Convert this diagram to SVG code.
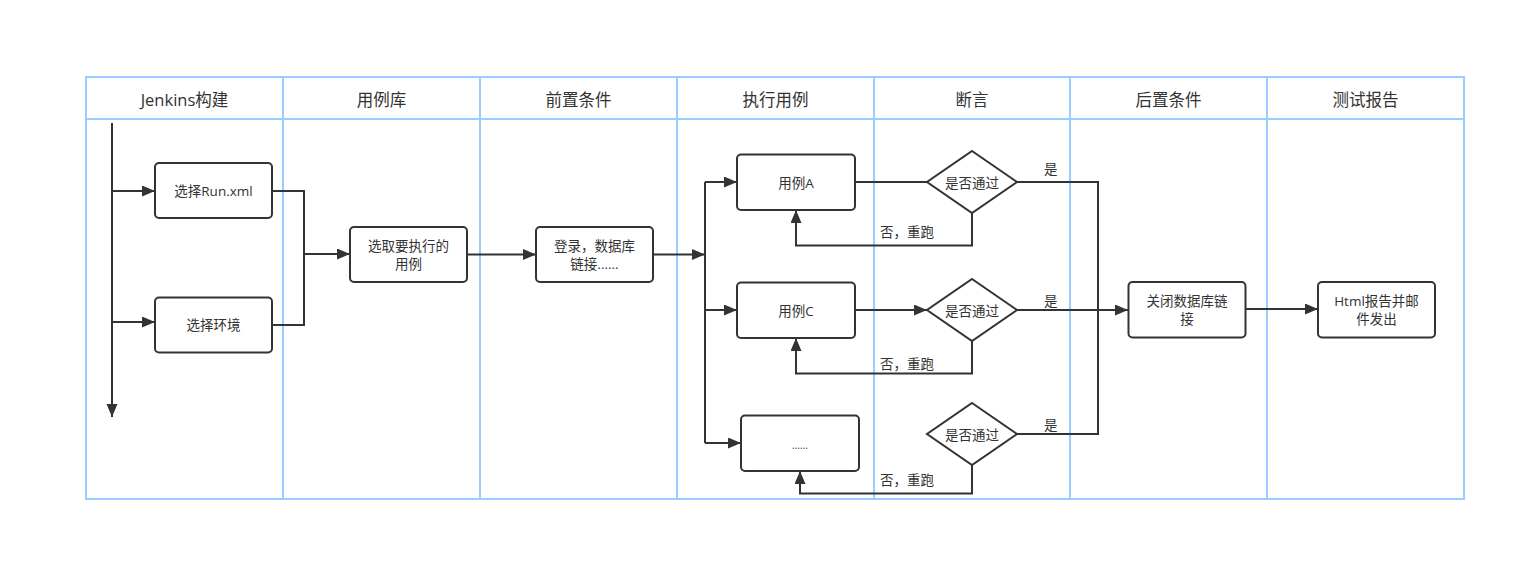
<svg xmlns="http://www.w3.org/2000/svg" width="1530" height="566" viewBox="0 0 1530 566">
<style>
.lane{fill:none;stroke:#99ccff;stroke-width:2}
.hd{font-family:"Open Sans","Noto Sans CJK SC",sans-serif;font-size:16.5px;fill:#333;text-anchor:middle;dominant-baseline:central}
.box{fill:#fff;stroke:#333;stroke-width:2}
.t{font-family:"Open Sans","Noto Sans CJK SC",sans-serif;font-size:13.5px;fill:#333;text-anchor:middle;dominant-baseline:central}
.lb{font-family:"Open Sans","Noto Sans CJK SC",sans-serif;font-size:13.5px;fill:#333;dominant-baseline:central}
.c{fill:none;stroke:#333;stroke-width:2}
.a{marker-end:url(#ah)}
</style>
<defs>
<marker id="ah" markerUnits="userSpaceOnUse" markerWidth="14" markerHeight="12" refX="13" refY="5.5" orient="auto">
<path d="M0,0 L13,5.5 L0,11 z" fill="#333"/>
</marker>
</defs>
<rect width="1530" height="566" fill="#fff"/>
<g id="lanes">
<rect class="lane" x="86" y="77" width="1378" height="422"/>
<line class="lane" x1="86" y1="119" x2="1464" y2="119"/>
<line class="lane" x1="283" y1="77" x2="283" y2="499"/>
<line class="lane" x1="480" y1="77" x2="480" y2="499"/>
<line class="lane" x1="677" y1="77" x2="677" y2="499"/>
<line class="lane" x1="874" y1="77" x2="874" y2="499"/>
<line class="lane" x1="1070" y1="77" x2="1070" y2="499"/>
<line class="lane" x1="1267" y1="77" x2="1267" y2="499"/>
<text class="hd" x="184.5" y="99">Jenkins构建</text>
<text class="hd" x="381.5" y="99">用例库</text>
<text class="hd" x="578.5" y="99">前置条件</text>
<text class="hd" x="775.5" y="99">执行用例</text>
<text class="hd" x="972" y="99">断言</text>
<text class="hd" x="1168.5" y="99">后置条件</text>
<text class="hd" x="1365.5" y="99">测试报告</text>
</g>
<g id="connectors">
<path class="c a" d="M112,123 V417"/>
<path class="c a" d="M112,191 H155"/>
<path class="c a" d="M112,322 H155"/>
<path class="c" d="M273,191 H304 V325 H273"/>
<path class="c a" d="M304,254 H350"/>
<path class="c a" d="M467,254.5 H536"/>
<path class="c a" d="M653,254.5 H705"/>
<path class="c" d="M705,182 V443"/>
<path class="c a" d="M705,182 H737"/>
<path class="c a" d="M705,310 H737"/>
<path class="c a" d="M705,443 H741"/>
<path class="c" d="M855,182 H927"/>
<path class="c a" d="M855,310 H927"/>
<path class="c a" d="M972,213 V245.5 H796 V210"/>
<path class="c a" d="M972,341 V373.5 H796 V338"/>
<path class="c a" d="M972,465 V493.5 H800 V471"/>
<path class="c" d="M1017,182 H1098 V434 H1017"/>
<path class="c a" d="M1017,310 H1128"/>
<path class="c a" d="M1246,309 H1318"/>
<text class="lb" x="880" y="231.5">否，重跑</text>
<text class="lb" x="880" y="364">否，重跑</text>
<text class="lb" x="880" y="479.5">否，重跑</text>
<text class="lb" x="1044" y="169">是</text>
<text class="lb" x="1044" y="301">是</text>
<text class="lb" x="1044" y="425">是</text>
</g>
<g id="n_runxml"><rect class="box" x="155" y="163" width="117" height="55" rx="4"/><text class="t" x="213.5" y="191">选择Run.xml</text></g>
<g id="n_env"><rect class="box" x="155" y="297.5" width="117" height="55" rx="4"/><text class="t" x="213.5" y="325">选择环境</text></g>
<g id="n_select"><rect class="box" x="350" y="227" width="117" height="55" rx="4"/><text class="t" x="408.5" y="246">选取要执行的</text><text class="t" x="408.5" y="264">用例</text></g>
<g id="n_login"><rect class="box" x="536" y="227" width="117" height="55" rx="4"/><text class="t" x="594.5" y="246">登录，数据库</text><text class="t" x="594.5" y="264">链接......</text></g>
<g id="n_caseA"><rect class="box" x="737" y="154.5" width="118" height="55.5" rx="4"/><text class="t" x="796" y="183">用例A</text></g>
<g id="n_caseC"><rect class="box" x="737" y="282.5" width="118" height="55.5" rx="4"/><text class="t" x="796" y="311">用例C</text></g>
<g id="n_caseN"><rect class="box" x="741" y="415.5" width="118" height="55.5" rx="4"/><text class="t" x="800" y="445" style="font-size:10px">......</text></g>
<g id="d_1"><path class="box" d="M972,151 L1017,182 L972,213 L927,182 z"/><text class="t" x="972" y="183">是否通过</text></g>
<g id="d_2"><path class="box" d="M972,279 L1017,310 L972,341 L927,310 z"/><text class="t" x="972" y="311">是否通过</text></g>
<g id="d_3"><path class="box" d="M972,403 L1017,434 L972,465 L927,434 z"/><text class="t" x="972" y="435">是否通过</text></g>
<g id="n_close"><rect class="box" x="1128.5" y="282" width="117" height="55.5" rx="4"/><text class="t" x="1187" y="301">关闭数据库链</text><text class="t" x="1187" y="319">接</text></g>
<g id="n_report"><rect class="box" x="1318" y="282" width="117" height="55.5" rx="4"/><text class="t" x="1376.5" y="301">Html报告并邮</text><text class="t" x="1376.5" y="319">件发出</text></g>
</svg>
